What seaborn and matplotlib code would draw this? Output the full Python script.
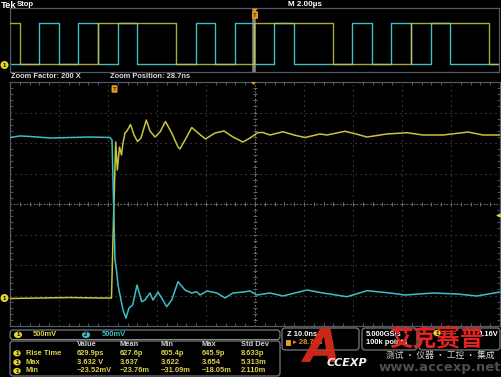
import matplotlib
matplotlib.use("Agg")
import matplotlib.pyplot as plt
from matplotlib.patches import FancyBboxPatch, Ellipse, Polygon
import numpy as np
import pandas as pd
import seaborn as sns

# ---------------- data ----------------
# zoom window traces (time in ns relative to screen centre, volts relative to centre line)
ch1_time_ns = [-50.0, -43.88, -37.76, -31.63, -29.29, -28.88, -28.43, -28.10, -27.65, -27.24,
               -26.94, -26.53, -26.12, -25.41, -24.69, -23.98, -23.27, -22.18, -21.43, -20.41,
               -19.39, -18.27, -17.0, -15.71, -15.31, -14.29, -12.90, -11.63, -10.10, -8.16,
               -6.33, -4.49, -2.45, -1.02, 0.61, 1.63, 3.06, 5.71, 7.96, 10.20,
               13.27, 14.69, 18.37, 20.61, 22.86, 26.94, 31.02, 34.29, 38.37, 43.47,
               46.53, 50.0]
ch1_volts = [-1.549, -1.541, -1.533, -1.541, -1.541, -0.262, 1.016, 0.557, 0.934, 0.803,
             1.0, 1.164, 1.197, 1.303, 1.131, 1.025, 1.082, 1.377, 1.197, 1.098,
             1.180, 1.352, 1.164, 0.934, 0.902, 1.049, 1.254, 1.164, 1.066, 1.164,
             1.197, 1.098, 1.016, 1.082, 1.172, 1.172, 1.131, 1.185, 1.131, 1.090,
             1.148, 1.131, 1.192, 1.148, 1.098, 1.148, 1.169, 1.131, 1.131, 1.180,
             1.131, 1.131]

ch2_time_ns = [-50.0, -47.96, -45.92, -41.84, -37.76, -33.67, -29.59, -29.18, -28.88, -28.57,
               -28.22, -27.96, -27.55, -26.94, -26.33, -25.71, -24.96, -24.08, -23.12, -22.45,
               -21.43, -20.82, -19.80, -19.04, -18.02, -17.0, -15.71, -14.29, -12.92, -11.90,
               -11.22, -9.80, -7.76, -6.12, -4.49, -2.45, -1.02, 0.41, 3.06, 5.71,
               8.16, 10.61, 13.88, 18.78, 22.86, 27.55, 30.61, 36.33, 41.22, 45.31,
               50.0]
ch2_volts = [1.090, 1.115, 1.107, 1.082, 1.090, 1.098, 1.090, 1.049, 0.066, -0.918,
             -1.115, -1.328, -1.492, -1.738, -1.869, -1.705, -1.656, -1.328, -1.602, -1.574,
             -1.459, -1.574, -1.443, -1.541, -1.684, -1.574, -1.274, -1.410, -1.459, -1.438,
             -1.492, -1.426, -1.459, -1.541, -1.459, -1.443, -1.426, -1.492, -1.459, -1.508,
             -1.459, -1.410, -1.459, -1.520, -1.421, -1.459, -1.492, -1.459, -1.475, -1.508,
             -1.443]

# overview (time in µs, logic level 0/1)
overview_time_us = [-10.0, -9.6, -8.8, -8.0, -7.2, -6.4, -5.6, -4.8, -4.0, -3.2, -2.4, -1.6,
                    -0.8, 0.0, 0.8, 1.6, 2.4, 3.2, 4.0, 4.8, 5.6, 6.4, 7.2, 8.0, 8.8, 9.6, 10.0]
overview_ch1 = [1, 0, 0, 0, 0, 1, 1, 1, 1, 0, 0, 0, 0, 1, 1, 1, 1, 0, 0, 0, 0, 1, 1, 1, 1, 0, 0]
overview_ch2 = [0, 0, 1, 0, 1, 0, 1, 0, 0, 0, 1, 0, 1, 0, 1, 0, 0, 0, 1, 0, 1, 0, 1, 0, 0, 0, 0]

meas_columns = ["Value", "Mean", "Min", "Max", "Std Dev"]
meas_rows = ["Rise Time", "Max", "Min"]
meas_rise = ["629.9ps", "627.6p", "605.4p", "645.9p", "8.633p"]
meas_max = ["3.632 V", "3.637", "3.622", "3.654", "5.313m"]
meas_min = ["\u221223.52mV", "\u221223.76m", "\u221231.09m", "\u221218.05m", "2.110m"]

# ---------------- style ----------------
YEL = "#c9c43f"
CYA = "#3cbfc9"
TXT_YEL = "#ddd04a"
GRID = "#575757"
BORDER = "#4d5b6b"
W, H = 502, 377

sns.set_theme(style="dark", rc={"axes.facecolor": "black", "figure.facecolor": "black",
                                "savefig.facecolor": "black"})
plt.rcParams["font.family"] = ["Liberation Sans", "DejaVu Sans"]

fig = plt.figure(figsize=(W / 100, H / 100), dpi=100, facecolor="black")

# overview axes
ax_ov = fig.add_axes([10 / W, 1 - 72 / H, 489 / W, 63.7 / H])
ax_ov.set_facecolor("black")
df_ov = pd.DataFrame({"t": overview_time_us, "c1": overview_ch1, "c2": overview_ch2})
ax_ov.axvline(0, color="#8b8373", lw=2.6, zorder=1)
sns.lineplot(data=df_ov, x="t", y="c2", ax=ax_ov, color=CYA, lw=1.0, drawstyle="steps-post",
             estimator=None, legend=False, zorder=2)
sns.lineplot(data=df_ov, x="t", y="c1", ax=ax_ov, color=YEL, lw=1.0, drawstyle="steps-post",
             estimator=None, legend=False, zorder=3, alpha=0.85)
ax_ov.set_xlim(-10, 10)
ax_ov.set_ylim(-0.194, 1.349)

# main zoom axes
ax = fig.add_axes([10 / W, 1 - 326 / H, 490 / W, 244 / H])
ax.set_facecolor("black")
df1 = pd.DataFrame({"t": ch1_time_ns, "v": ch1_volts})
df2 = pd.DataFrame({"t": ch2_time_ns, "v": ch2_volts})
sns.lineplot(data=df1, x="t", y="v", ax=ax, color=YEL, lw=1.1, estimator=None, legend=False, zorder=3)
sns.lineplot(data=df2, x="t", y="v", ax=ax, color=CYA, lw=1.1, estimator=None, legend=False, zorder=4)
ax.set_xlim(-50, 50)
ax.set_ylim(-2, 2)
ax.set_xticks(np.arange(-40, 41, 10))
ax.set_yticks(np.arange(-1.5, 1.51, 0.5))
ax.set_xticks(np.arange(-50, 50.1, 2), minor=True)
ax.set_yticks(np.arange(-2, 2.01, 0.1), minor=True)
ax.grid(True, which="major", color=GRID, linestyle=(0, (1, 3.5)), linewidth=0.8)
ax.axvline(0, color="#7a7a7a", linestyle=(0, (1, 2)), lw=0.8, zorder=1)
ax.axhline(0, color="#7a7a7a", linestyle=(0, (1, 2)), lw=0.8, zorder=1)
ax.plot(np.arange(-50, 50.1, 2), np.zeros(51), ls="none", marker="|", ms=3, color="#6a6a6a", mew=0.7)
ax.plot(np.zeros(41), np.arange(-2, 2.01, 0.1), ls="none", marker="_", ms=3, color="#6a6a6a", mew=0.7)

for a in (ax, ax_ov):
    a.set_xlabel("")
    a.set_ylabel("")
    a.tick_params(which="major", length=0, labelbottom=False, labelleft=False)
    for s in a.spines.values():
        s.set_visible(True)
        s.set_color(BORDER)
        s.set_linewidth(0.9)
ax.tick_params(which="minor", direction="in", length=2.2, width=0.6, color="#56646f",
               top=True, right=True, bottom=True, left=True)
ax_ov.set_xticks([])
ax_ov.set_yticks([])

# ---------------- overlay (pixel coordinates) ----------------
ov = fig.add_axes([0, 0, 1, 1], zorder=10)
ov.set_xlim(0, W)
ov.set_ylim(H, 0)
ov.axis("off")
ov.patch.set_alpha(0)


def txt(x, y, s, color="#dcdcdc", size=5.4, ha="left", weight="bold", **kw):
    ov.text(x, y, s, color=color, fontsize=size, ha=ha, va="center", weight=weight, **kw)


def badge(x, y, label, fc, w=8.5, h=7.0):
    ov.add_patch(Ellipse((x, y), w, h, fc=fc, ec="none"))
    ov.text(x, y + 0.2, label, fontsize=4.3, ha="center", va="center", color="black", weight="bold")


def trig(x, y):
    ov.add_patch(FancyBboxPatch((x - 3, y - 3.8), 6, 7.6, boxstyle="round,pad=0,rounding_size=1",
                                fc="#e29b22", ec="none"))
    ov.text(x, y + 0.2, "T", fontsize=4.3, ha="center", va="center", color="#4a2a00", weight="bold")


def box(x, y, w, h):
    ov.add_patch(FancyBboxPatch((x, y), w, h, boxstyle="round,pad=0,rounding_size=3",
                                fc="none", ec="#8a8a8a", lw=0.8))


# header
txt(1, 5, "Tek", color="white", size=6.8)
txt(17, 5, "Stop", color="white", size=5.6)
txt(288, 5, "M 2.00\u00b5s", color="white", size=5.8)
txt(11, 77, "Zoom Factor: 200 X", size=5.4)
txt(110, 77, "Zoom Position: 28.7ns", size=5.4)

# markers
badge(4.5, 65, "1", "#e6d62e", w=8, h=8)
badge(4.5, 298, "1", "#e6d62e", w=8, h=8)
trig(255, 15)
ov.add_patch(Polygon([[252, 8.5], [258, 8.5], [255, 11.5]], fc="#e29b22", ec="none"))
trig(114.5, 89)
ov.add_patch(Polygon([[251, 82], [256, 82], [253.5, 85]], fc="#e29b22", ec="none"))
ov.text(498, 216, "\u25c0", color="#e6d62e", fontsize=4.5, ha="center", va="center")

# channel box
box(10, 330, 270, 9.5)
badge(18, 334.8, "1", "#e6d62e", w=8, h=6.5)
txt(33, 334.8, "500mV", color=TXT_YEL)
badge(86, 334.8, "2", CYA, w=8, h=6.5)
txt(102, 334.8, "500mV", color=CYA)

# measurement box
box(10, 341, 270, 35)
col_x = [77, 120, 161, 202, 241]
for cx, c in zip(col_x, meas_columns):
    txt(cx, 345, c, color="#cfcfcf")
row_y = [353.3, 362.3, 371]
for ry, name, vals in zip(row_y, meas_rows, [meas_rise, meas_max, meas_min]):
    badge(17, ry, "1", "#e6d62e", w=7.5, h=6.2)
    txt(26, ry, name, color=TXT_YEL)
    for cx, v in zip(col_x, vals):
        txt(cx, ry, v, color=TXT_YEL)

# right info boxes
box(282, 328, 77, 22)
txt(287, 334.5, "Z 10.0ns", color="white")
ov.add_patch(FancyBboxPatch((286, 340), 5, 6, boxstyle="round,pad=0,rounding_size=1", fc="#e29b22", ec="none"))
txt(293, 343, "\u25b8 28.7ns", color="#e29b22")
box(362, 328, 55, 22)
txt(366, 334.5, "5.000GS/s", color="white")
txt(366, 343, "100k points", color="white")
box(419, 328, 81, 22)
badge(437, 333, "1", "#e6d62e", w=7.5, h=6.2)
txt(498, 334.5, "1.16V", color="white", ha="right")

# watermark logo
ov.text(321, 350, "A", fontsize=34, color="#d42a1c", weight="bold", style="italic",
        ha="center", va="center", family="DejaVu Sans", alpha=0.95)
ov.text(347, 363, "CCEXP", fontsize=8, color="#f2f2f2", weight="bold", style="italic",
        ha="center", va="center", family="DejaVu Sans")
ov.text(437, 339, "\u827e\u514b\u8d5b\u666e", fontsize=17, color="#e3231f", weight="bold",
        ha="center", va="center", family=["Noto Sans CJK SC", "DejaVu Sans"])
ov.text(440, 355, "\u6d4b\u8bd5 \u00b7 \u4eea\u5668 \u00b7 \u5de5\u63a7 \u00b7 \u96c6\u6210", fontsize=6.3,
        color="#d5d5d5", ha="center", va="center", family=["Noto Sans CJK SC", "DejaVu Sans"])
ov.text(440, 367, "www.accexp.net", fontsize=9.5, color="#4e4e4e", weight="bold",
        ha="center", va="center", family="DejaVu Sans")

fig.savefig("out.png", dpi=100, facecolor="black")
